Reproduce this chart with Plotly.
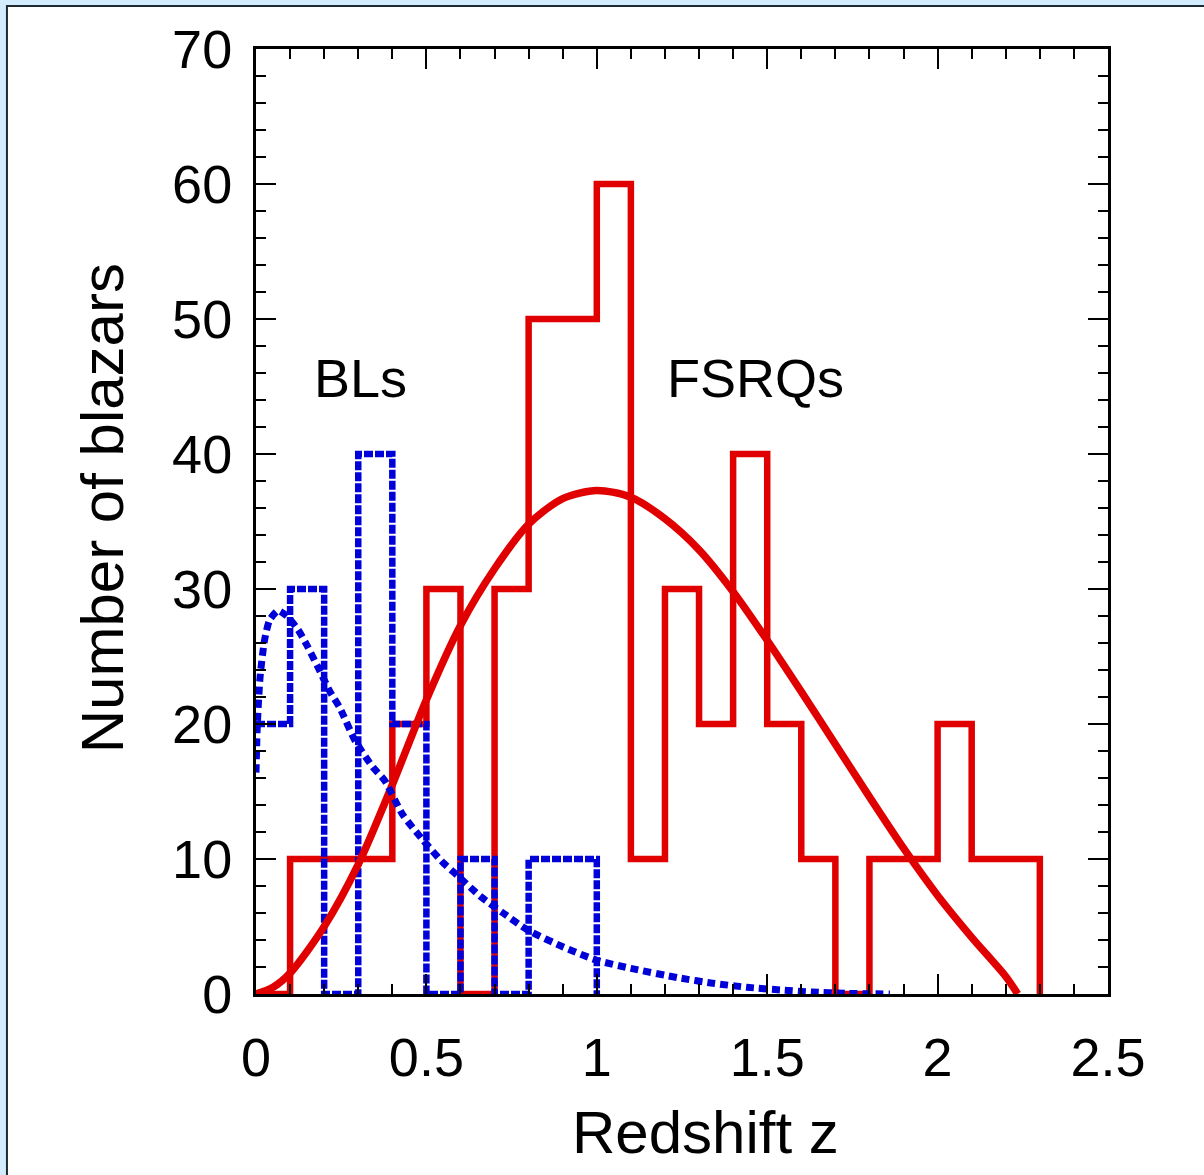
import plotly.graph_objects as go

# ---- data ----
bin_edges_fsrq = [round(0.1 * i, 1) for i in range(24)]  # 0.0 .. 2.3
fsrq_counts = [0, 10, 10, 10, 20, 30, 0, 30, 50, 50, 60, 10, 30, 20, 40, 20, 10, 0, 10, 10, 20, 10, 10]

bin_edges_bl = [round(0.1 * i, 1) for i in range(11)]  # 0.0 .. 1.0
bl_counts = [20, 30, 0, 40, 20, 0, 10, 0, 10, 10]

fsrq_fit_z = [0, 0.05, 0.1, 0.2, 0.3, 0.4, 0.5, 0.6, 0.7, 0.8, 0.9, 1.0, 1.1, 1.2, 1.3,
              1.4, 1.5, 1.6, 1.7, 1.8, 1.9, 2.0, 2.1, 2.2, 2.235]
fsrq_fit_n = [0, 0.5, 1.55, 5.0, 9.6, 15.5, 21.8, 27.3, 31.5, 34.8, 36.7, 37.3, 36.8, 35.2, 32.9,
              29.8, 26.2, 22.4, 18.5, 14.6, 10.8, 7.3, 4.2, 1.3, 0]

bl_fit_z = [0, 0.004, 0.012, 0.025, 0.04, 0.065, 0.09, 0.123, 0.15, 0.182, 0.217, 0.246, 0.29,
            0.343, 0.378, 0.43, 0.49, 0.55, 0.59, 0.66, 0.725, 0.8, 0.9, 1.0, 1.1, 1.24, 1.34,
            1.44, 1.54, 1.63, 1.73, 1.86]
bl_fit_n = [16.4, 20.0, 23.5, 26.2, 27.7, 28.4, 28.0, 27.0, 25.8, 24.2, 22.4, 21.2, 18.8,
            16.8, 15.8, 13.3, 11.4, 9.7, 8.8, 7.2, 6.0, 4.7, 3.5, 2.5, 1.9, 1.2, 0.8,
            0.5, 0.3, 0.15, 0.05, 0]

x_ticks = [0, 0.5, 1, 1.5, 2, 2.5]
x_tick_labels = ["0", "0.5", "1", "1.5", "2", "2.5"]
y_ticks = [0, 10, 20, 30, 40, 50, 60, 70]

RED = "#e00000"
BLUE = "#0000d8"
FONT = "Liberation Sans, Arial, sans-serif"

# step outlines
fsrq_x = bin_edges_fsrq
fsrq_y = fsrq_counts + [0]
bl_x = bin_edges_bl
bl_y = bl_counts + [0]

fig = go.Figure()
fig.add_trace(go.Scatter(x=fsrq_x, y=fsrq_y, mode="lines", line=dict(color=RED, width=6.5, shape="hv"),
                         showlegend=False, hoverinfo="skip"))
fig.add_trace(go.Scatter(x=bl_x, y=bl_y, mode="lines",
                         line=dict(color=BLUE, width=6.5, shape="hv", dash="9px,2px"),
                         showlegend=False, hoverinfo="skip"))
fig.add_trace(go.Scatter(x=fsrq_fit_z, y=fsrq_fit_n, mode="lines",
                         line=dict(color=RED, width=7.5, shape="spline", smoothing=0.8),
                         showlegend=False, hoverinfo="skip"))
fig.add_trace(go.Scatter(x=bl_fit_z, y=bl_fit_n, mode="lines",
                         line=dict(color=BLUE, width=7, shape="spline", smoothing=0.6, dash="8px,5px"),
                         showlegend=False, hoverinfo="skip"))

axis_common = dict(showline=True, linecolor="black", linewidth=3, mirror="ticks",
                   ticks="inside", tickcolor="black", tickwidth=2, ticklen=20,
                   showgrid=False, zeroline=False,
                   tickfont=dict(family=FONT, size=54, color="black"))

fig.update_xaxes(range=[0, 2.5], tickmode="array", tickvals=x_ticks, ticktext=x_tick_labels,
                 ticklabelstandoff=14,
                 minor=dict(dtick=0.1, tick0=0, ticks="inside", ticklen=10, tickwidth=2,
                            tickcolor="black", showgrid=False),
                 **axis_common)
fig.update_yaxes(range=[0, 70], tickmode="array", tickvals=y_ticks,
                 ticklabelstandoff=10,
                 minor=dict(dtick=2, tick0=0, ticks="inside", ticklen=10, tickwidth=2,
                            tickcolor="black", showgrid=False),
                 **axis_common)

fig.add_shape(type="rect", xref="paper", yref="paper", x0=-0.2923, x1=1.3, y0=-0.3, y1=1.0455,
              line=dict(color="#1e2a30", width=2), fillcolor="white", layer="below")

fig.add_annotation(x=0.308, y=45.6, xref="x", yref="y", text="BLs", showarrow=False,
                   xanchor="center", yanchor="middle",
                   font=dict(family=FONT, size=54, color="black"))
fig.add_annotation(x=1.467, y=45.6, xref="x", yref="y", text="FSRQs", showarrow=False,
                   xanchor="center", yanchor="middle",
                   font=dict(family=FONT, size=54, color="black"))
fig.add_annotation(x=-0.1808, y=0.514, xref="paper", yref="paper", text="Number of blazars",
                   textangle=-90, showarrow=False, xanchor="center", yanchor="middle",
                   font=dict(family=FONT, size=60, color="black"))
fig.add_annotation(x=0.527, y=-0.147, xref="paper", yref="paper", text="Redshift z",
                   showarrow=False, xanchor="center", yanchor="middle",
                   font=dict(family=FONT, size=60, color="black"))

fig.update_layout(width=1204, height=1175, autosize=False,
                  margin=dict(l=256, r=96, t=49, b=181),
                  paper_bgcolor="#d2ebfd", plot_bgcolor="rgba(0,0,0,0)",
                  font=dict(family=FONT))

fig.write_html("out.html")
